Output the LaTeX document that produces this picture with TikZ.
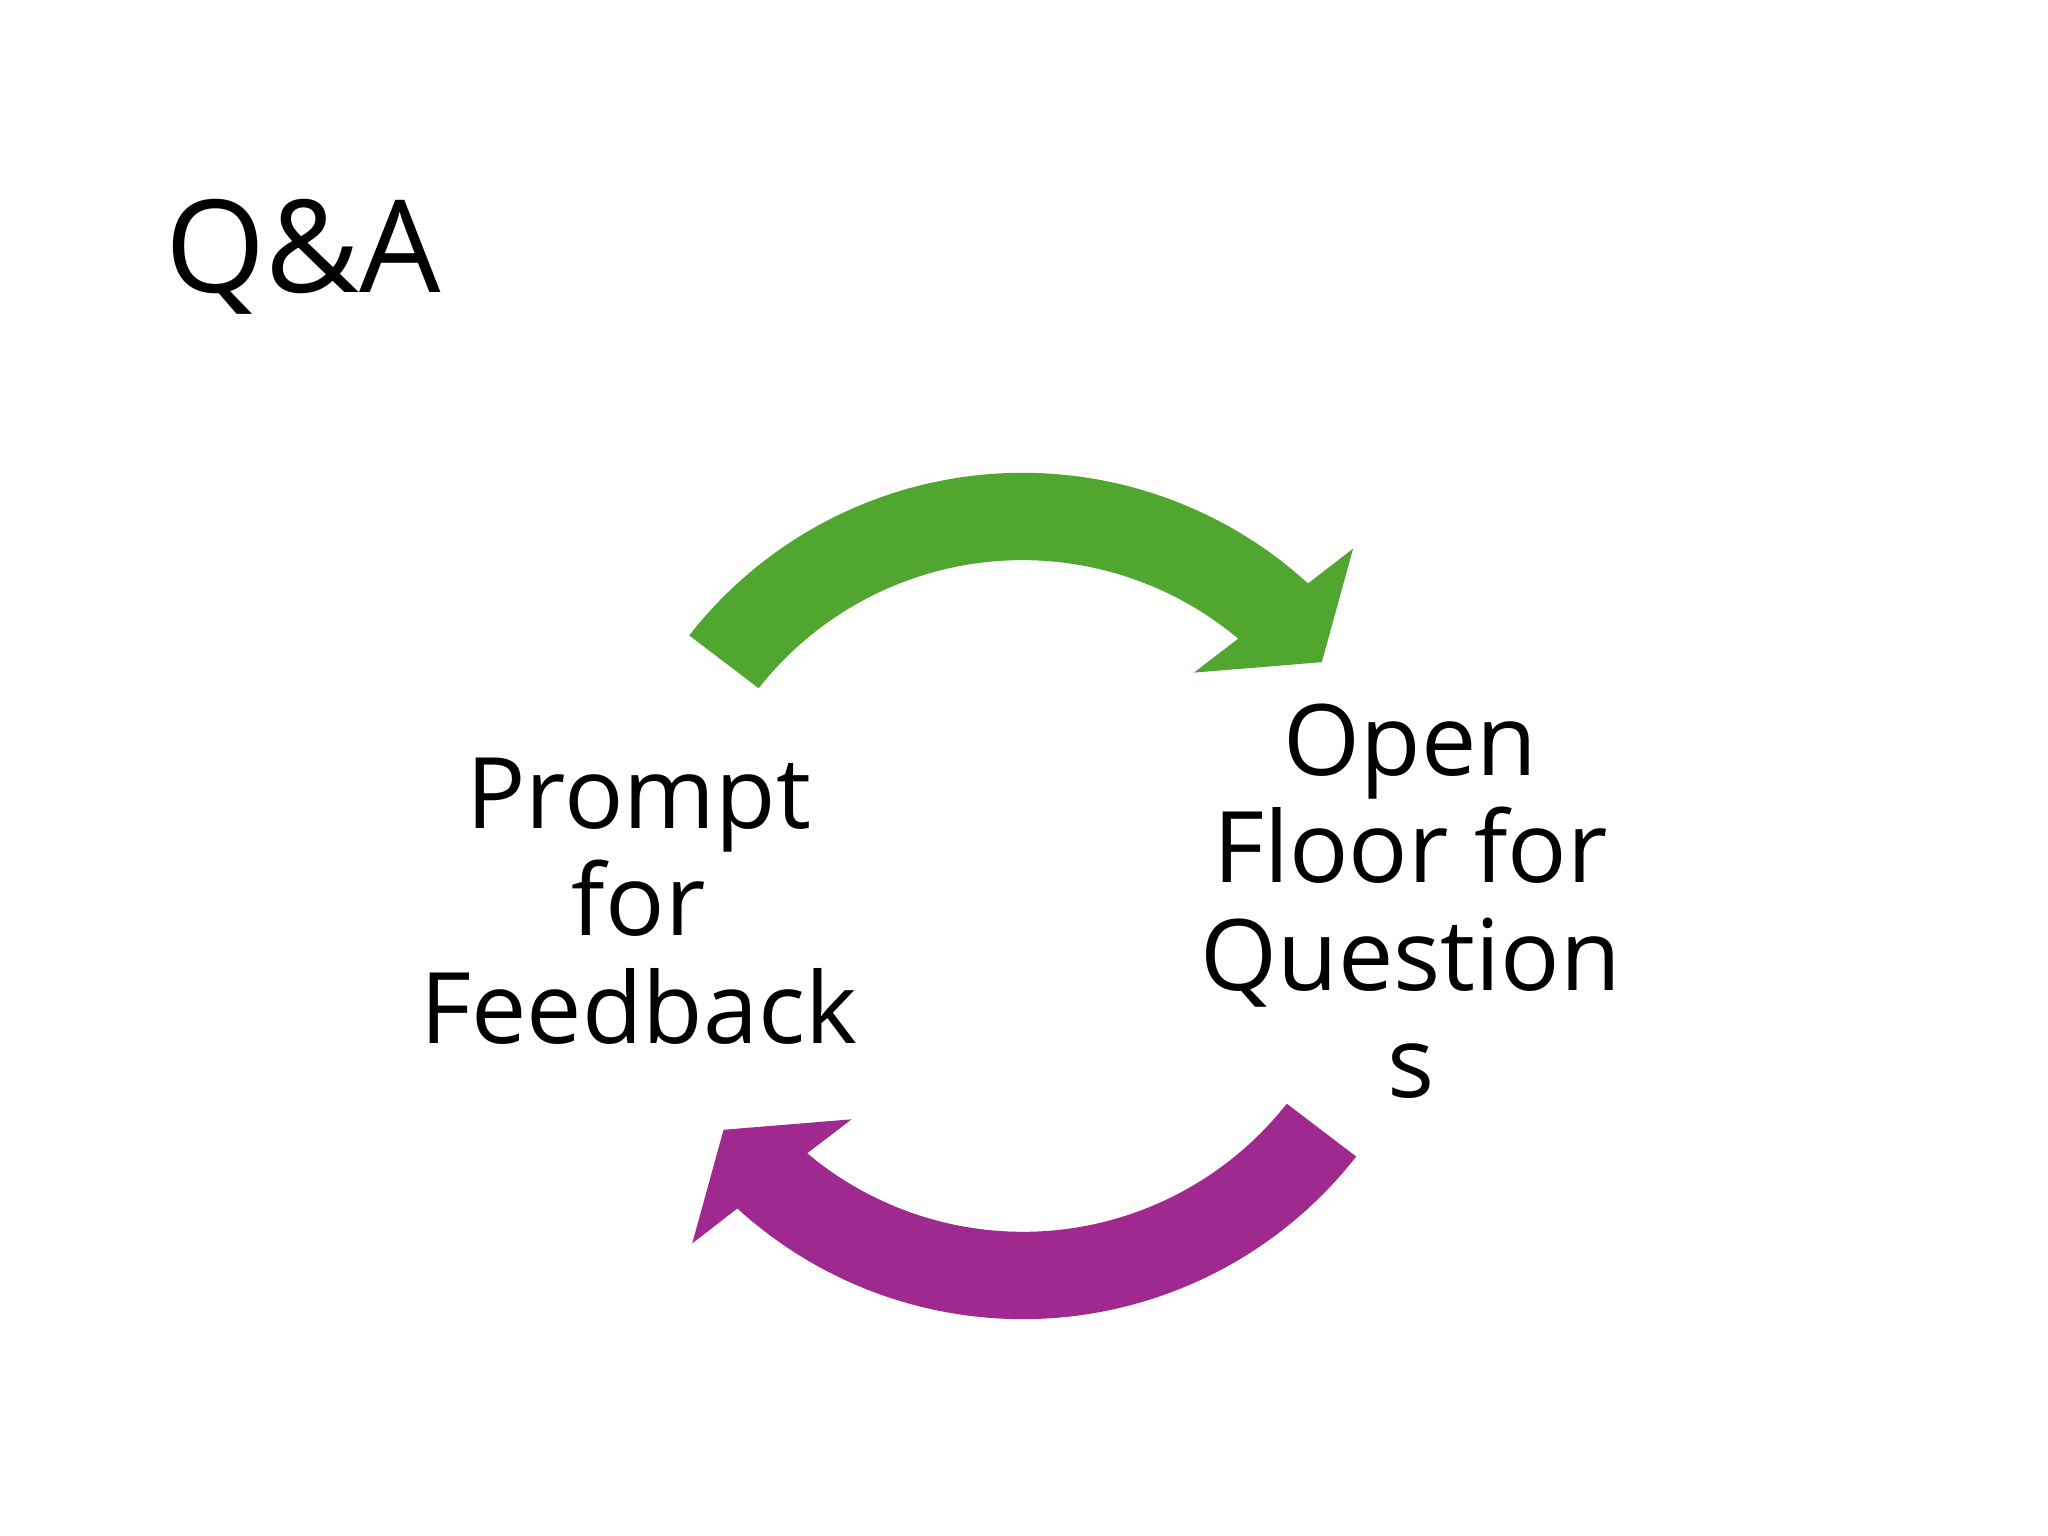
\documentclass[tikz,border=0pt]{standalone}
\usepackage{fontspec}
\setmainfont{Open Sans}
\definecolor{cgreen}{RGB}{80,166,46}
\definecolor{cpurple}{RGB}{160,41,144}
\begin{document}
\begin{tikzpicture}[x=0.01cm,y=0.01cm,
  lbl/.style={align=center,inner sep=0pt,font=\fontsize{21.5}{23.4}\selectfont},
  cyc/.style={shift={(783,490)}}]
\useasboundingbox (0,0) rectangle (1568,1176);
\def\arrowshape{(142:324) arc[start angle=142,end angle=47.6,radius=324]
  -- (253,266) -- (229,179) -- (131,171) -- (165,197)
  arc[start angle=50,end angle=141.8,radius=257] -- cycle}
\fill[cgreen,cyc] \arrowshape;
\fill[cpurple,cyc,rotate=180] \arrowshape;
\node[anchor=base west,inner sep=0pt,font=\fontsize{28}{30}\selectfont] (title) at (126,952) {Q\&A};
\node[lbl] (prompt) at (489,486) {Prompt\\for\\Feedback};
\node[lbl] (open) at (1080,486) {Open\\Floor for\\Question\\s};
\end{tikzpicture}
\end{document}
